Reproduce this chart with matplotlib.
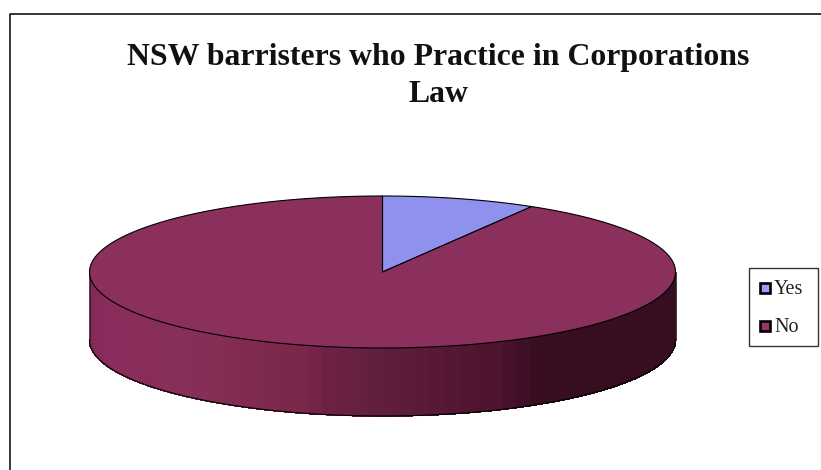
import numpy as np
import matplotlib
matplotlib.use("Agg")
import matplotlib.pyplot as plt
from matplotlib.patches import Polygon, Rectangle

categories = ["Yes", "No"]
values = [8.5, 91.5]
colors = ["#9090EE", "#8B2F5C"]
title_lines = "NSW barristers who Practice in Corporations\nLaw"

W, H = 821, 470
CX, CY, RX, RY, DEPTH = 382.5, 272.0, 293.0, 76.0, 68.0

fig = plt.figure(figsize=(W / 100, H / 100), dpi=100, facecolor="white")
ax = fig.add_axes([0, 0, 1, 1])
ax.set_xlim(0, W)
ax.set_ylim(H, 0)
ax.axis("off")

# chart frame (open to the right and bottom of the crop)
ax.plot([9.5, 9.5, W], [H, 13.5, 13.5], color="black", lw=1.1, solid_capstyle="butt")

def pt(theta, dy=0.0):
    return CX + RX * np.sin(theta), CY - RY * np.cos(theta) + dy

# side wall, shaded in vertical bands (shade looked up by pixel x)
stops_x = np.array([89, 110, 200, 250, 300, 335, 375, 430, 500, 535, 676])
stops_rgb = np.array([
    [0x80, 0x29, 0x58], [0x8A, 0x2D, 0x5C], [0x86, 0x2E, 0x58], [0x80, 0x2A, 0x50],
    [0x7A, 0x27, 0x4C], [0x6A, 0x20, 0x44], [0x62, 0x20, 0x40], [0x58, 0x1A, 0x36],
    [0x4C, 0x12, 0x2E], [0x38, 0x0E, 0x20], [0x36, 0x0E, 0x20]]) / 255
edges = np.linspace(np.pi / 2, 3 * np.pi / 2, 61)
for a, b in zip(edges[:-1], edges[1:]):
    ts = np.linspace(a, b, 5)
    x, y = pt(ts)
    x2, y2 = pt(ts[::-1], DEPTH)
    mid = CX + RX * np.sin((a + b) / 2)
    c = [np.interp(mid, stops_x, stops_rgb[:, i]) for i in range(3)]
    ax.add_patch(Polygon(np.r_[np.c_[x, y], np.c_[x2, y2]], closed=True, fc=c, ec=c,
                         lw=0.6, antialiased=False, zorder=2))

# side outline
ts = np.linspace(np.pi / 2, 3 * np.pi / 2, 300)
x, y = pt(ts, DEPTH)
ax.plot(x, y, color="black", lw=0.8, zorder=3)
for s in (np.pi / 2, 3 * np.pi / 2):
    px, py = pt(s)
    ax.plot([px, px], [py, py + DEPTH], color="#222222", lw=0.6, zorder=3)

# top face, wedges clockwise from 12 o'clock
start = 0.0
total = sum(values)
for val, col in zip(values, colors):
    sweep = 2 * np.pi * val / total
    ts = np.linspace(start, start + sweep, 400)
    x, y = pt(ts)
    verts = np.r_[[[CX, CY]], np.c_[x, y]]
    ax.add_patch(Polygon(verts, closed=True, fc=col, ec="black", lw=0.8, zorder=4, joinstyle="round"))
    start += sweep

# title
ax.text(438.5, 109, title_lines, ha="center", va="bottom", family="Liberation Serif",
        fontweight="bold", fontsize=22.9, color="#111111", linespacing=1.36, zorder=5)

# legend
ax.add_patch(Rectangle((749, 267.5), 69, 78.5, fc="white", ec="#333333", lw=1.0, zorder=5))
for cat, col, ym in zip(categories, ["#9C9CFF", "#993366"], [288, 326]):
    ax.add_patch(Rectangle((760.3, ym - 5), 10, 10, fc=col, ec="black", lw=1.9, zorder=6))
    ax.text(774, ym + 2, cat, ha="left", va="center", family="Liberation Serif",
            fontsize=14.5, color="#222222", zorder=6)

fig.savefig("out.png", dpi=100)
